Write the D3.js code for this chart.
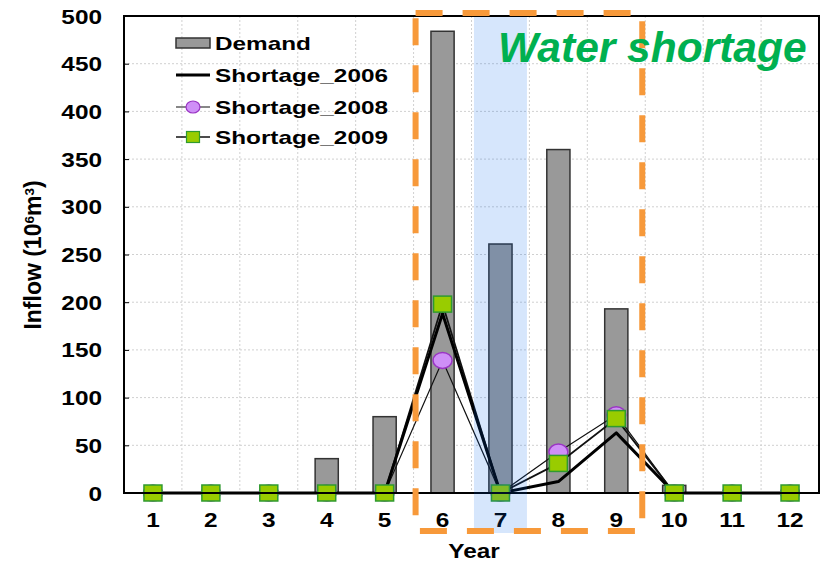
<!DOCTYPE html>
<html>
<head>
<meta charset="utf-8">
<script src="https://cdn.jsdelivr.net/npm/d3@7"></script>
<style>
  html, body { margin: 0; padding: 0; background: #fff; }
  svg { display: block; }
  text { font-family: "Liberation Sans", Arial, sans-serif; font-weight: bold; }
</style>
</head>
<body>
<svg id="chart" width="827" height="562"></svg>
<script>
// Monthly demand and shortage volumes (10^6 m^3)
const months = ["1", "2", "3", "4", "5", "6", "7", "8", "9", "10", "11", "12"];
const demand = [0, 0, 0, 36, 80, 484, 261, 360, 193, 8, 0, 0];
const shortage2006 = [0, 0, 0, 0, 0, 188, 0, 12, 63, 0, 0, 0];
const shortage2008 = [0, 0, 0, 0, 0, 139, 0, 43, 82, 0, 0, 0];
const shortage2009 = [0, 0, 0, 0, 0, 198, 0, 31, 78, 0, 0, 0];
const yTicks = [0, 50, 100, 150, 200, 250, 300, 350, 400, 450, 500];
const shortageMonths = ["6", "9"];   // span framed by the dashed box
const focusMonth = "7";              // highlighted month

const svg = d3.select("#chart");
const m = { left: 124, right: 819, top: 16, bottom: 493 };
const sx = 1.25; // horizontal widening applied to the bold labels

const x = d3.scaleBand().domain(months).range([m.left, m.right]);
const y = d3.scaleLinear().domain([0, 500]).range([m.bottom, m.top]);
const bw = x.bandwidth();
const cx = d => x(d) + bw / 2;

// grid
const grid = svg.append("g").attr("stroke", "#d0d0d0").attr("stroke-width", 1)
  .attr("stroke-dasharray", "2,2");
grid.selectAll("line.h").data(yTicks.filter(t => t > 0 && t < 500)).join("line")
  .attr("x1", m.left).attr("x2", m.right)
  .attr("y1", d => y(d)).attr("y2", d => y(d));
grid.selectAll("line.v").data(months.slice(1)).join("line")
  .attr("x1", d => x(d)).attr("x2", d => x(d))
  .attr("y1", m.top).attr("y2", m.bottom);

// demand bars
svg.append("g").selectAll("rect").data(months).join("rect")
  .attr("x", d => x(d) + bw * 0.3)
  .attr("width", bw * 0.4)
  .attr("y", (d, i) => y(demand[i]))
  .attr("height", (d, i) => y(0) - y(demand[i]))
  .attr("fill", "#999999")
  .attr("stroke", "#333333")
  .attr("stroke-width", 1.5)
  .attr("display", (d, i) => demand[i] > 0 ? null : "none");

// shortage lines
const line = vals => d3.line().x((d, i) => cx(months[i])).y(d => y(d))(vals);
svg.append("path").attr("d", line(shortage2008)).attr("fill", "none")
  .attr("stroke", "#111").attr("stroke-width", 1.2);
svg.append("path").attr("d", line(shortage2009)).attr("fill", "none")
  .attr("stroke", "#111").attr("stroke-width", 1.8);
svg.append("path").attr("d", line(shortage2006)).attr("fill", "none")
  .attr("stroke", "#000").attr("stroke-width", 3).attr("stroke-linejoin", "round");

// markers
svg.append("g").selectAll("ellipse").data(shortage2008).join("ellipse")
  .attr("cx", (d, i) => cx(months[i])).attr("cy", d => y(d))
  .attr("rx", 9.5).attr("ry", 8)
  .attr("fill", "#cf8ff7").attr("stroke", "#9a35c4").attr("stroke-width", 1.5);
svg.append("g").selectAll("rect").data(shortage2009).join("rect")
  .attr("x", (d, i) => cx(months[i]) - 9).attr("y", d => y(d) - 8)
  .attr("width", 18).attr("height", 16)
  .attr("fill", "#99cc00").attr("stroke", "#2f9a2f").attr("stroke-width", 1.5);

// frame
svg.append("rect").attr("x", m.left).attr("y", m.top)
  .attr("width", m.right - m.left).attr("height", m.bottom - m.top)
  .attr("fill", "none").attr("stroke", "#000").attr("stroke-width", 2);

// y axis
const yAxis = svg.append("g").attr("transform", `translate(${m.left},0)`)
  .call(d3.axisLeft(y).tickValues(yTicks).tickSize(-5).tickPadding(0));
yAxis.select(".domain").remove();
yAxis.selectAll(".tick line").attr("stroke", "#000").attr("stroke-width", 1);
yAxis.selectAll(".tick text")
  .attr("x", 0).attr("dy", null).attr("y", 7)
  .attr("transform", `translate(-22,0) scale(${sx},1)`)
  .attr("font-size", 19.5).attr("fill", "#000").attr("text-anchor", "end");

// x axis
const xAxis = svg.append("g").attr("transform", `translate(0,${m.bottom})`)
  .call(d3.axisBottom(x).tickSize(0).tickPadding(0));
xAxis.select(".domain").remove();
xAxis.selectAll(".tick text")
  .attr("y", 0).attr("dy", null)
  .attr("transform", `translate(0,34) scale(${sx},1)`)
  .attr("font-size", 19.5).attr("fill", "#000").attr("text-anchor", "middle");

// axis titles
svg.append("text").attr("transform", `translate(474,558) scale(${sx},1)`)
  .attr("text-anchor", "middle").attr("font-size", 19.5).text("Year");
const yt = svg.append("text").attr("transform", "translate(41,255) rotate(-90)")
  .attr("text-anchor", "middle").attr("font-size", 23);
yt.append("tspan").text("Inflow (10");
yt.append("tspan").attr("baseline-shift", "super").attr("font-size", 13.5).text("6");
yt.append("tspan").text("m");
yt.append("tspan").attr("baseline-shift", "super").attr("font-size", 13.5).text("3");
yt.append("tspan").text(")");

// legend
const lg = svg.append("g");
const lx0 = 176, lx1 = 210, ltx = 215;
const rows = [
  { label: "Demand", y: 43 },
  { label: "Shortage_2006", y: 75 },
  { label: "Shortage_2008", y: 107 },
  { label: "Shortage_2009", y: 137 }
];
lg.append("rect").attr("x", lx0).attr("y", rows[0].y - 5).attr("width", lx1 - lx0).attr("height", 10)
  .attr("fill", "#999").attr("stroke", "#333").attr("stroke-width", 1.5);
lg.append("line").attr("x1", lx0).attr("x2", lx1).attr("y1", rows[1].y).attr("y2", rows[1].y)
  .attr("stroke", "#000").attr("stroke-width", 3);
lg.append("line").attr("x1", lx0).attr("x2", lx1).attr("y1", rows[2].y).attr("y2", rows[2].y)
  .attr("stroke", "#111").attr("stroke-width", 1.2);
lg.append("ellipse").attr("cx", (lx0 + lx1) / 2).attr("cy", rows[2].y).attr("rx", 7).attr("ry", 6)
  .attr("fill", "#cf8ff7").attr("stroke", "#9a35c4").attr("stroke-width", 1.2);
lg.append("line").attr("x1", lx0).attr("x2", lx1).attr("y1", rows[3].y).attr("y2", rows[3].y)
  .attr("stroke", "#111").attr("stroke-width", 1.5);
lg.append("rect").attr("x", (lx0 + lx1) / 2 - 6.5).attr("y", rows[3].y - 5.5).attr("width", 13).attr("height", 11)
  .attr("fill", "#99cc00").attr("stroke", "#2f9a2f").attr("stroke-width", 1.2);
lg.selectAll("text").data(rows).join("text")
  .attr("transform", d => `translate(${ltx},${d.y + 6.8}) scale(1.28,1)`)
  .attr("font-size", 19).attr("fill", "#000").text(d => d.label);

// highlighted month band
svg.append("rect")
  .attr("x", cx(focusMonth) - 26.5).attr("width", 53)
  .attr("y", m.top + 1).attr("height", 533 - m.top - 1)
  .attr("fill", "rgb(0,100,235)").attr("fill-opacity", 0.16);

// dashed box around the shortage months
const bx0 = x(shortageMonths[0]) + 2, bx1 = x(shortageMonths[1]) + bw - 3;
svg.append("rect").attr("x", bx0).attr("y", 13)
  .attr("width", bx1 - bx0).attr("height", 531 - 13)
  .attr("fill", "none").attr("stroke", "#f7993a").attr("stroke-width", 6)
  .attr("stroke-dasharray", "27,20");

svg.append("text").attr("x", 498).attr("y", 62)
  .attr("font-size", 42.5).attr("font-style", "italic").attr("fill", "#00b050")
  .text("Water shortage");
</script>
</body>
</html>
